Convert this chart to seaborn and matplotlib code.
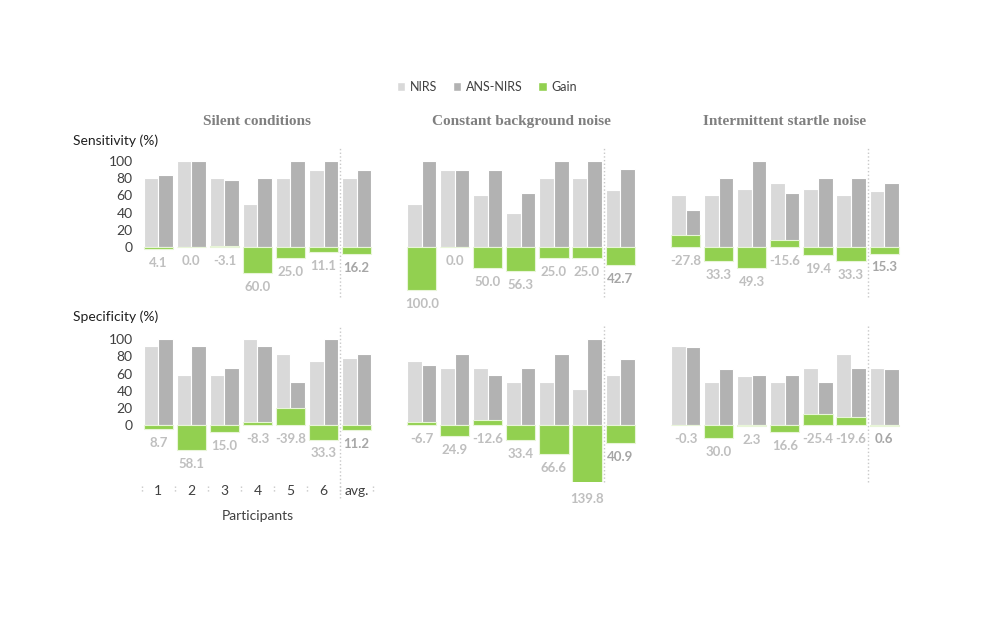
import pandas as pd
import numpy as np
import matplotlib.pyplot as plt
import seaborn as sns
from matplotlib.patches import Patch

participants = ['1', '2', '3', '4', '5', '6', 'avg.']
conditions = ['Silent conditions', 'Constant background noise', 'Intermittent startle noise']

# Sensitivity (%)
sens_nirs_silent = [80, 100, 80, 50, 80, 90, 80]
sens_ans_silent = [83.3, 100, 77.5, 80, 100, 100, 90.1]
sens_gain_silent = [4.1, 0.0, -3.1, 60.0, 25.0, 11.1, 16.2]
sens_nirs_constant = [50, 90, 60, 40, 80, 80, 66.7]
sens_ans_constant = [100, 90, 90, 62.5, 100, 100, 90.4]
sens_gain_constant = [100.0, 0.0, 50.0, 56.3, 25.0, 25.0, 42.7]
sens_nirs_startle = [60, 60, 67, 75, 67, 60, 64.8]
sens_ans_startle = [43.3, 80, 100, 63.3, 80, 80, 74.4]
sens_gain_startle = [-27.8, 33.3, 49.3, -15.6, 19.4, 33.3, 15.3]

# Specificity (%)
spec_nirs_silent = [92, 58, 58, 100, 83, 75, 77.7]
spec_ans_silent = [100, 91.7, 66.7, 91.7, 50, 100, 83.4]
spec_gain_silent = [8.7, 58.1, 15.0, -8.3, -39.8, 33.3, 11.2]
spec_nirs_constant = [75, 66.7, 66.7, 50, 50, 41.7, 58.3]
spec_ans_constant = [70, 83.3, 58.3, 66.7, 83.3, 100, 76.9]
spec_gain_constant = [-6.7, 24.9, -12.6, 33.4, 66.6, 139.8, 40.9]
spec_nirs_startle = [91.7, 50, 57, 50, 67, 83, 66.5]
spec_ans_startle = [91.4, 65, 58.3, 58.3, 50, 66.7, 65]
spec_gain_startle = [-0.3, 30.0, 2.3, 16.6, -25.4, -19.6, 0.6]

rows = [
    [(sens_nirs_silent, sens_ans_silent, sens_gain_silent),
     (sens_nirs_constant, sens_ans_constant, sens_gain_constant),
     (sens_nirs_startle, sens_ans_startle, sens_gain_startle)],
    [(spec_nirs_silent, spec_ans_silent, spec_gain_silent),
     (spec_nirs_constant, spec_ans_constant, spec_gain_constant),
     (spec_nirs_startle, spec_ans_startle, spec_gain_startle)],
]
row_labels = ['Sensitivity (%)', 'Specificity (%)']
row_ylim = [(-58, 116), (-66, 116)]

C_NIRS = '#d9d9d9'
C_ANS = '#b2b2b2'
C_GAIN = '#92d050'
C_LABEL = '#bfbfbf'
C_AVG = '#a6a6a6'
C_TEXT = '#404040'

sns.set_style('white')
plt.rcParams['font.family'] = ['Lato', 'DejaVu Sans']

fig = plt.figure(figsize=(10, 6.3), dpi=100)

lefts = [0.1418, 0.4053, 0.6693]
width = 0.2313
bottoms = [0.529, 0.2349]
heights = [0.237, 0.2484]

for r in range(2):
    lo, hi = row_ylim[r]
    for c in range(3):
        nirs, ans, gain = rows[r][c]
        ax = fig.add_axes([lefts[c], bottoms[r], width, heights[r]])
        df = pd.DataFrame({
            'participant': participants * 2,
            'value': list(nirs) + list(ans),
            'method': ['NIRS'] * len(nirs) + ['ANS-NIRS'] * len(ans),
        })
        sns.barplot(data=df, x='participant', y='value', hue='method', order=participants,
                    hue_order=['NIRS', 'ANS-NIRS'], palette=[C_NIRS, C_ANS], width=0.88,
                    saturation=1, errorbar=None, edgecolor='white', linewidth=0.8,
                    legend=False, ax=ax)
        ax.set_ylim(lo, hi)
        ax.set_xlim(-0.5, len(participants) - 0.5)

        # gain on a reversed secondary axis (half scale)
        ax2 = ax.twinx()
        sns.barplot(x=participants, y=gain, color=C_GAIN, width=0.88, saturation=1,
                    errorbar=None, edgecolor='#e8f5d8', linewidth=0.8, ax=ax2)
        ax2.set_ylim(-2 * lo, -2 * hi)
        ax2.set_xlim(-0.5, len(participants) - 0.5)
        for i, g in enumerate(gain):
            is_avg = i == len(gain) - 1
            ax2.annotate(f'{g:.1f}', (i, max(g, 0)), xytext=(0, -10), textcoords='offset points',
                         ha='center', va='center', fontsize=9.5, fontweight='bold',
                         color=C_AVG if is_avg else C_LABEL, annotation_clip=False)

        for a in (ax, ax2):
            for s in a.spines.values():
                s.set_visible(False)
            a.set_xlabel('')
            a.set_ylabel('')
            a.tick_params(left=False, right=False, bottom=False)
        ax2.set_yticks([])

        sep_low = -0.1 if (r == 1 and c == 0) else 0
        ax.axvline(len(participants) - 1.5, ymin=sep_low, ymax=1, color='#c8c8c8',
                   ls=':', lw=1, clip_on=False)

        if c == 0:
            ax.set_yticks([0, 20, 40, 60, 80, 100])
            ax.tick_params(axis='y', labelsize=10, labelcolor=C_TEXT, pad=3)
        else:
            ax.set_yticks([])

        if r == 1 and c == 0:
            ax.set_xticks(range(len(participants)))
            ax.set_xticklabels(participants)
            ax.tick_params(axis='x', labelsize=10, labelcolor=C_TEXT, pad=-1)
            bounds = np.arange(len(participants) + 1) - 0.5
            ax.vlines(bounds, -0.028, -0.07, transform=ax.get_xaxis_transform(),
                      colors='#c8c8c8', linestyles=':', lw=1, clip_on=False)
            fig.text(lefts[c] + width / 2, 1 - 516 / 630, 'Participants', ha='center',
                     va='center', fontsize=10, color=C_TEXT)
        else:
            ax.set_xticks([])

        if r == 0:
            fig.text(lefts[c] + width / 2, 1 - 121.5 / 630, conditions[c], ha='center',
                     va='center', fontsize=11, fontweight='bold', color='#7f7f7f',
                     family=['Liberation Serif', 'DejaVu Serif'])

    fig.text(0.073, 1 - (140.5 if r == 0 else 316.5) / 630, row_labels[r], ha='left',
             va='center', fontsize=10, color='#202020')

handles = [Patch(facecolor=C_NIRS), Patch(facecolor=C_ANS), Patch(facecolor=C_GAIN)]
fig.legend(handles, ['NIRS', 'ANS-NIRS', 'Gain'], loc='center', bbox_to_anchor=(0.487, 1 - 87 / 630),
           ncol=3, frameon=False, fontsize=9, handlelength=0.7, handleheight=0.7,
           handletextpad=0.4, columnspacing=1.2, labelcolor=C_TEXT)

fig.savefig('out.png', dpi=100)
